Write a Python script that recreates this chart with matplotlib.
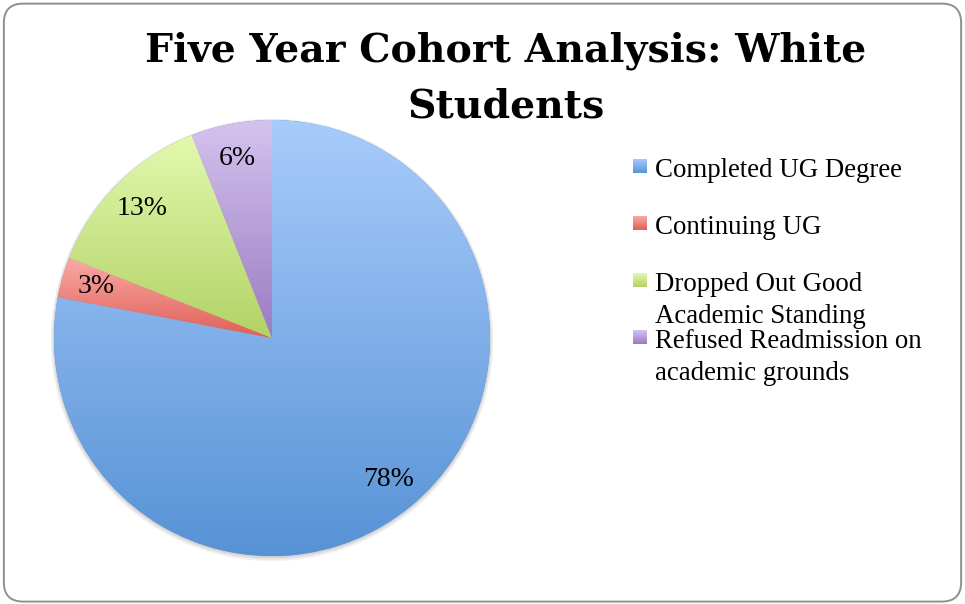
import matplotlib
matplotlib.use("Agg")
import matplotlib.pyplot as plt
import numpy as np
from matplotlib.colors import LinearSegmentedColormap
from matplotlib.patches import FancyBboxPatch, Circle

plt.rcParams['font.family'] = ['Liberation Serif', 'DejaVu Serif']

# cohort outcome shares (percent)
categories = ['Completed UG Degree', 'Continuing UG',
              'Dropped Out Good\nAcademic Standing',
              'Refused Readmission on\nacademic grounds']
shares = [78, 3, 13, 6]
title_lines = ['Five Year Cohort Analysis: White', 'Students']

# (top, bottom) gradient colours for each slice
top_colors = ['#a8ccfb', '#faaaa6', '#e3f9ae', '#d4c3ee']
bottom_colors = ['#5792d6', '#e05f58', '#b2d266', '#9a7bc2']

W, H = 965, 604
fig = plt.figure(figsize=(W / 100, H / 100), dpi=100, facecolor='white')

# rounded chart border
border = FancyBboxPatch((0.004, 0.004), 0.992, 0.99,
                        boxstyle='round,pad=0,rounding_size=0.02',
                        transform=fig.transFigure, facecolor='none',
                        edgecolor='#8f8f8f', linewidth=1.4,
                        mutation_aspect=W / H, zorder=-1)
fig.patches.append(border)

for i, line in enumerate(title_lines):
    fig.text(506 / W, 1 - (62 + 55 * i) / H, line, ha='center',
             va='baseline', fontsize=28.4, fontweight='bold',
             family='DejaVu Serif')

ax = fig.add_axes([32.2 / W, 26.2 / H, 479.6 / W, 479.6 / H])

# thin soft shadow, slightly heavier below the pie
for k, a in enumerate([0.06, 0.07, 0.09, 0.12]):
    ax.add_patch(Circle((0.0, -0.009 + 0.002 * k), 1.0 + 0.005 * (3 - k),
                        facecolor='#404040', edgecolor='none', alpha=a,
                        zorder=0))

wedges, texts, autotexts = ax.pie(
    shares, startangle=90, counterclock=False, radius=1.0,
    colors=bottom_colors, autopct='%1.0f%%', pctdistance=0.84,
    wedgeprops=dict(edgecolor='none', linewidth=0),
    textprops=dict(fontsize=20, color='black'))

grad = np.linspace(0, 1, 256).reshape(-1, 1)
for w, ct, cb in zip(wedges, top_colors, bottom_colors):
    verts = w.get_patch_transform().transform(w.get_path().vertices)
    x0, y0 = verts.min(axis=0)
    x1, y1 = verts.max(axis=0)
    cmap = LinearSegmentedColormap.from_list('w', [ct, cb])
    im = ax.imshow(grad, cmap=cmap, extent=(x0, x1, y0, y1),
                   aspect='auto', origin='upper', zorder=w.get_zorder() + 0.1,
                   interpolation='bilinear')
    im.set_clip_path(w)

for t in autotexts:
    t.set_zorder(5)

ax.set_xlim(-1.1, 1.1)
ax.set_ylim(-1.1, 1.1)
ax.set_aspect('equal')
ax.axis('off')

# legend: keys spaced at a fixed pitch, wrapped labels run past the next slot
pitch = 57
line_gap = 32
first_base = 177
for i, (lab, ct, cb) in enumerate(zip(categories, top_colors, bottom_colors)):
    base = first_base + pitch * i
    key = fig.add_axes([633 / W, 1 - (base - 4) / H, 14 / W, 14 / H])
    key.imshow(grad, cmap=LinearSegmentedColormap.from_list('k', [ct, cb]),
               aspect='auto', interpolation='bilinear')
    key.axis('off')
    for j, part in enumerate(lab.split('\n')):
        fig.text(655 / W, 1 - (base + line_gap * j) / H, part, ha='left',
                 va='baseline', fontsize=19.4)

fig.savefig('out.png', dpi=100)
